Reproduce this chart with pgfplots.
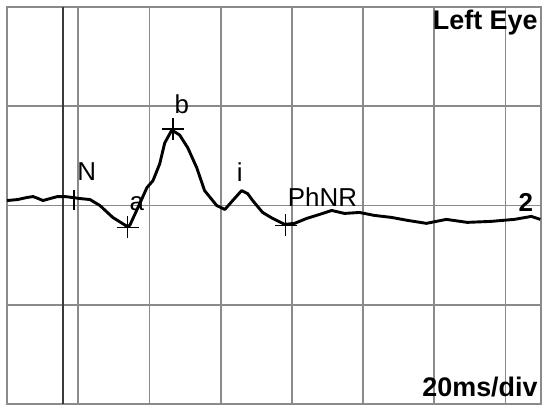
\documentclass[border=0pt]{standalone}
\usepackage{pgfplots}
\pgfplotsset{compat=1.18}
\usepackage{fontspec}
\setmainfont{Liberation Sans}
\definecolor{gridgray}{HTML}{8A8A8A}
\definecolor{stimline}{HTML}{3A3A3A}

\begin{document}
\begin{tikzpicture}
\begin{axis}[
    name=ax,
    scale only axis,
    width=534bp, height=397bp,
    xmin=0, xmax=150, ymin=-2, ymax=2,
    xtick={20,40,...,140}, ytick={-1,0,1},
    xticklabels={}, yticklabels={},
    major tick length=0pt,
    grid=major,
    major grid style={gridgray, line width=1.8bp},
    axis line style={gridgray, line width=1.8bp},
    clip=false,
]
% stimulus marker
\addplot[stimline, line width=2.4bp] coordinates {(15.7,-2) (15.7,2)};

% ERG trace
\addplot[black, line width=2.9bp, line join=round] coordinates {
(0,0.05) (3.0,0.06) (5.5,0.08) (7.3,0.09) (8.8,0.07) (10.1,0.05) (12.1,0.07)
(14.2,0.09) (16.3,0.09) (18.5,0.08) (20.5,0.07) (23.3,0.06) (26.1,0.0)
(29.7,-0.12) (33.7,-0.21) (34.5,-0.20) (37.3,0.02) (39.3,0.18) (41.0,0.25)
(42.9,0.42) (44.3,0.63) (46.3,0.76) (48.5,0.71) (50.8,0.58) (53.3,0.38)
(55.5,0.15) (58.9,0.0) (61.2,-0.04) (63.4,0.05) (65.9,0.15) (67.6,0.12)
(69.0,0.05) (71.8,-0.07) (74.6,-0.13) (78.0,-0.19) (80.8,-0.18) (84.2,-0.13)
(87.8,-0.09) (91.2,-0.05) (94.8,-0.08) (99.0,-0.07) (103.2,-0.10) (108.0,-0.12)
(112.5,-0.15) (117.8,-0.18) (123.4,-0.14) (129.3,-0.17) (136.0,-0.16)
(142.5,-0.14) (147.3,-0.11) (149.8,-0.14)
};

% N marker
\addplot[black, line width=1.3bp, only marks, mark=|, mark size=10bp] coordinates {(18.8,0.06)};
% a, b, PhNR markers
\addplot[black, line width=1.3bp, only marks, mark=+, mark size=11bp] coordinates {
(33.9,-0.22) (46.6,0.77) (78.3,-0.20)
};

\node[font=\fontsize{26}{30}\selectfont] at (axis cs:22.4,0.34) {N};
\node[font=\fontsize{26}{30}\selectfont] at (axis cs:36.5,0.02) {a};
\node[font=\fontsize{26}{30}\selectfont] at (axis cs:49.1,1.02) {b};
\node[font=\fontsize{26}{30}\selectfont] at (axis cs:65.4,0.34) {i};
\node[font=\fontsize{26}{30}\selectfont] at (axis cs:88.6,0.08) {PhNR};
\node[font=\fontsize{26}{30}\selectfont\bfseries, anchor=east, inner sep=0pt] at (axis cs:147.8,0.03) {2};
\node[font=\fontsize{27}{31}\selectfont\bfseries, anchor=east, inner sep=0pt] at (rel axis cs:0.994,0.96) {Left Eye};
\node[font=\fontsize{27}{31}\selectfont\bfseries, anchor=east, inner sep=0pt] at (rel axis cs:0.994,0.043) {20ms/div};
\end{axis}
\path (ax.south west) ++(-7bp,-11bp) coordinate (bl);
\path (ax.north east) ++(9bp,7bp) coordinate (tr);
\useasboundingbox (bl) rectangle (tr);
\end{tikzpicture}
\end{document}
